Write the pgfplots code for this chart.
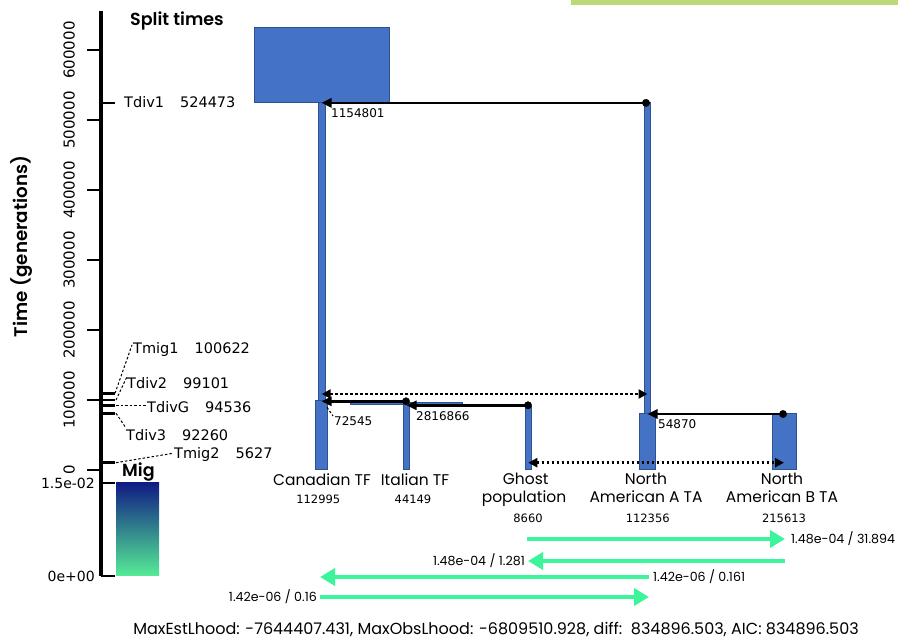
\documentclass[border=0pt]{standalone}
\usepackage{fontspec}
\setmainfont{Poppins}
\newfontfamily\dv{DejaVu Sans}
\IfFontExistsTF{Poppins SemiBold}{\newfontfamily\pmed{Poppins SemiBold}}{%
  \IfFontExistsTF{Poppins Medium}{\newfontfamily\pmed{Poppins Medium}}{\newcommand\pmed{\bfseries}}}
\usepackage{pgfplots}
\pgfplotsset{compat=1.18}
\usetikzlibrary{arrows.meta}
\definecolor{popfill}{RGB}{68,114,196}
\definecolor{popedge}{RGB}{47,82,143}
\definecolor{mig}{RGB}{60,245,155}
\definecolor{topbar}{RGB}{188,217,119}
\definecolor{cbtop}{RGB}{16,28,132}
\definecolor{cbmid}{RGB}{40,118,142}
\definecolor{cbbot}{RGB}{85,236,150}
\newcommand\fs[1]{\fontsize{#1bp}{#1bp}\selectfont}
\begin{document}
\begin{tikzpicture}
\begin{axis}[
  at={(101bp,64bp)}, anchor=south west,
  scale only axis, width=797bp, height=565bp,
  xmin=101, xmax=898, ymin=-151428.6, ymax=655714.3,
  clip=false,
  hide x axis,
  axis y line*=left,
  axis line style={line width=3bp, black},
  ytick={0,100000,200000,300000,400000,500000,600000},
  ytick pos=left, tick align=outside,
  major tick length=14bp,
  tick style={black, line width=2.7bp},
  scaled y ticks=false,
  /pgf/number format/fixed, /pgf/number format/precision=0,
  /pgf/number format/1000 sep={},
  /pgf/number format/assume math mode=true,
  yticklabel style={xshift=-12bp, rotate=90, anchor=south, inner sep=0pt, font=\dv\fs{15}},
  popbar/.style={fill=popfill, draw=popedge, line width=1bp},
  blk/.style={black, line width=2.7bp, -{Triangle[length=10bp,width=9bp]}},
  dotar/.style={black, line width=2.7bp, dash pattern=on 2.5bp off 2.5bp, {Triangle[length=9bp,width=9bp]}-{Triangle[length=9bp,width=9bp]}},
  grn/.style={mig, line width=4.5bp, -{Triangle[length=15bp,width=17bp]}},
  lead/.style={black, line width=1bp, dash pattern=on 2.5bp off 2bp},
  stick/.style={black, line width=2.7bp},
]
% top decoration bar
\addplot[fill=topbar, draw=none] coordinates {(571,671428.6) (898,671428.6) (898,664285.7) (571,664285.7)} -- cycle;
% populations
\addplot[popbar] coordinates {(254,631428.6) (389,631428.6) (389,524473) (254,524473)} -- cycle;
\addplot[popbar] coordinates {(318,524473) (325,524473) (325,99101) (318,99101)} -- cycle;
\addplot[popbar] coordinates {(315.5,99101) (327.5,99101) (327.5,0) (315.5,0)} -- cycle;
\addplot[popbar] coordinates {(350,96714.3) (462,96714.3) (462,93285.7) (350,93285.7)} -- cycle;
\addplot[popbar] coordinates {(403.3,94285.7) (409.3,94285.7) (409.3,0) (403.3,0)} -- cycle;
\addplot[popbar] coordinates {(525.5,90428.6) (531,90428.6) (531,0) (525.5,0)} -- cycle;
\addplot[popbar] coordinates {(644.5,524473) (650,524473) (650,81000) (644.5,81000)} -- cycle;
\addplot[popbar] coordinates {(639.5,81000) (655.5,81000) (655.5,0) (639.5,0)} -- cycle;
\addplot[popbar] coordinates {(772,81000) (796,81000) (796,0) (772,0)} -- cycle;
% divergence arrows
\addplot[blk] coordinates {(646,524473) (321.5,524473)};
\addplot[blk] coordinates {(406,98142.9) (321.5,98142.9)};
\addplot[blk] coordinates {(528,92428.6) (406.5,92428.6)};
\addplot[blk] coordinates {(783,80000) (647.5,80000)};
\addplot[only marks, mark=*, mark size=3.7bp, black] coordinates {(646,524473) (406,98142.9) (528,92428.6) (783,80000)};
% migration (dotted) arrows
\addplot[dotar] coordinates {(321.7,108571.4) (647.5,108571.4)};
\addplot[dotar] coordinates {(528.3,10428.6) (784,10428.6)};
% arrow labels
\node[anchor=west, font=\dv\fs{12}, inner sep=0pt] at (331,509571.4) {1154801};
\node[anchor=west, font=\dv\fs{12}, inner sep=0pt] at (334,70428.6) {72545};
\addplot[lead] coordinates {(327,89571.4) (333,77142.9)};
\node[anchor=west, font=\dv\fs{12}, inner sep=0pt] at (416,77142.9) {2816866};
\node[anchor=west, font=\dv\fs{12}, inner sep=0pt] at (658,66142.9) {54870};
% split-time ticks and labels
\addplot[stick] coordinates {(101,524473) (115,524473)};
\addplot[stick] coordinates {(101,109571.4) (115,109571.4)};
\addplot[stick] coordinates {(101,100000) (115,100000)};
\addplot[stick] coordinates {(101,92142.9) (115,92142.9)};
\addplot[stick] coordinates {(101,81000) (115,81000)};
\addplot[stick] coordinates {(101,10428.6) (115,10428.6)};
\addplot[lead] coordinates {(115,109571.4) (132,178571.4)};
\addplot[lead] coordinates {(116,100000) (127,133285.7)};
\addplot[lead] coordinates {(116,92142.9) (146,92142.9)};
\addplot[lead] coordinates {(116,81000) (126,60000)};
\addplot[lead] coordinates {(116,10428.6) (173,23857.1)};
\node[anchor=west, font=\dv\fs{14.5}, inner sep=0pt] at (124,526142.9) {Tdiv1\hspace{16bp}524473};
\node[anchor=west, font=\dv\fs{14.5}, inner sep=0pt] at (133,171428.6) {Tmig1\hspace{16bp}100622};
\node[anchor=west, font=\dv\fs{14.5}, inner sep=0pt] at (127,124285.7) {Tdiv2\hspace{16bp}99101};
\node[anchor=west, font=\dv\fs{14.5}, inner sep=0pt] at (147,90000) {TdivG\hspace{16bp}94536};
\node[anchor=west, font=\dv\fs{14.5}, inner sep=0pt] at (126,50000) {Tdiv3\hspace{16bp}92260};
\node[anchor=west, font=\dv\fs{14.5}, inner sep=0pt] at (174,21428.6) {Tmig2\hspace{16bp}5627};
% titles
\node[anchor=base west, font=\pmed\fs{17.5}, inner sep=0pt] at (130,634285.7) {Split times};
\node[rotate=90, font=\pmed\fs{18.3}, inner sep=0pt] at (22,319285.7) {Time (generations)};
% colorbar
\addplot[draw=none, top color=cbtop, middle color=cbmid, bottom color=cbbot] coordinates {(116,-18571.4) (159,-18571.4) (159,-151428.6) (116,-151428.6)} -- cycle;
\addplot[stick] coordinates {(101,-18571.4) (115,-18571.4)};
\addplot[stick] coordinates {(101,-151428.6) (115,-151428.6)};
\node[anchor=east, font=\dv\fs{14}, inner sep=0pt] at (95,-18571.4) {1.5e-02};
\node[anchor=east, font=\dv\fs{14}, inner sep=0pt] at (95,-151428.6) {0e+00};
\node[anchor=base west, font=\pmed\fs{17.5}, inner sep=0pt] at (122,-9571.4) {Mig};
% population labels
\node[anchor=base, font=\fs{15.5}, inner sep=0pt] at (322,-22857.1) {Canadian TF};
\node[anchor=base, font=\dv\fs{11.5}, inner sep=0pt] at (318.3,-48571.4) {112995};
\node[anchor=base, font=\fs{15.5}, inner sep=0pt] at (415,-22857.1) {Italian TF};
\node[anchor=base, font=\dv\fs{11.5}, inner sep=0pt] at (413,-48571.4) {44149};
\node[anchor=base, font=\fs{15.5}, inner sep=0pt] at (525.7,-21428.6) {Ghost};
\node[anchor=base, font=\fs{15.5}, inner sep=0pt] at (524,-47142.9) {population};
\node[anchor=base, font=\dv\fs{11.5}, inner sep=0pt] at (528,-75714.3) {8660};
\node[anchor=base, font=\fs{15.5}, inner sep=0pt] at (646,-21428.6) {North};
\node[anchor=base, font=\fs{15.5}, inner sep=0pt] at (646,-47142.9) {American A TA};
\node[anchor=base, font=\dv\fs{11.5}, inner sep=0pt] at (647.7,-75714.3) {112356};
\node[anchor=base, font=\fs{15.5}, inner sep=0pt] at (782,-21428.6) {North};
\node[anchor=base, font=\fs{15.5}, inner sep=0pt] at (782,-47142.9) {American B TA};
\node[anchor=base, font=\dv\fs{11.5}, inner sep=0pt] at (784,-75714.3) {215613};
% migration rate arrows
\addplot[grn] coordinates {(527,-98571.4) (785,-98571.4)};
\addplot[grn] coordinates {(785,-130000) (528,-130000)};
\addplot[grn] coordinates {(649,-152857.1) (320,-152857.1)};
\addplot[grn] coordinates {(320,-181428.6) (649,-181428.6)};
\node[anchor=west, font=\fs{12.6}, inner sep=0pt] at (791,-98571.4) {1.48e-04 / 31.894};
\node[anchor=east, font=\fs{12.6}, inner sep=0pt] at (525,-130000) {1.48e-04 / 1.281};
\node[anchor=west, font=\fs{12.6}, inner sep=0pt] at (653,-152857.1) {1.42e-06 / 0.161};
\node[anchor=east, font=\fs{12.6}, inner sep=0pt] at (317,-181428.6) {1.42e-06 / 0.16};
% footer
\node[font=\fs{16}, inner sep=0pt] at (496,-228571.4) {MaxEstLhood: -7644407.431, MaxObsLhood: -6809510.928, diff:\ \ 834896.503, AIC: 834896.503};
\end{axis}
\pgfresetboundingbox
\path (0,0) rectangle (898bp,640bp);
\end{tikzpicture}
\end{document}
